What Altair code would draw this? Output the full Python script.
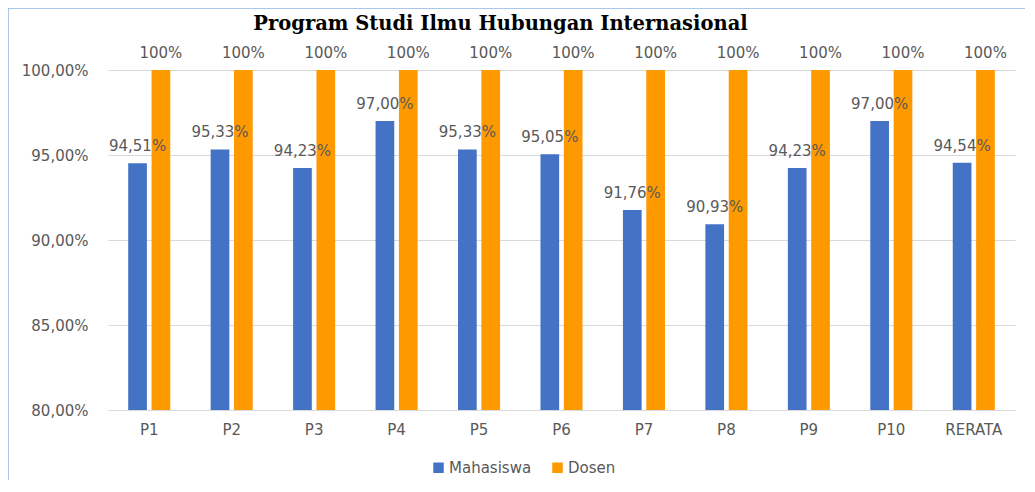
import altair as alt
import pandas as pd

categories = ["P1", "P2", "P3", "P4", "P5", "P6", "P7", "P8", "P9", "P10", "RERATA"]
mahasiswa = [94.51, 95.33, 94.23, 97.00, 95.33, 95.05, 91.76, 90.93, 94.23, 97.00, 94.54]
dosen = [100, 100, 100, 100, 100, 100, 100, 100, 100, 100, 100]
series = ["Mahasiswa", "Dosen"]
colors = ["#4472C4", "#FF9900"]
y_ticks = [80, 85, 90, 95, 100]

rows = []
for i, c in enumerate(categories):
    rows.append({"cat": c, "series": "Mahasiswa", "value": mahasiswa[i],
                 "label": f"{mahasiswa[i]:.2f}".replace(".", ",") + "%"})
    rows.append({"cat": c, "series": "Dosen", "value": dosen[i],
                 "label": f"{dosen[i]:.0f}%"})
df = pd.DataFrame(rows)

FONT = "DejaVu Sans"
GREY = "#595959"

x = alt.X("cat:N", sort=categories, title=None,
          scale=alt.Scale(paddingInner=0.49, paddingOuter=0.245),
          axis=alt.Axis(labelAngle=0, ticks=False, domainColor="#D9D9D9",
                        labelPadding=12, labelFont=FONT, labelFontSize=15,
                        labelColor=GREY))
xo = alt.XOffset("series:N", sort=series,
                 scale=alt.Scale(paddingInner=0.2, paddingOuter=0))
y = alt.Y("value:Q", title=None,
          scale=alt.Scale(domain=[80, 100], zero=False, nice=False),
          axis=alt.Axis(values=y_ticks, ticks=False, domain=False,
                        gridColor="#D9D9D9", labelPadding=20,
                        labelFont=FONT, labelFontSize=15, labelColor=GREY,
                        labelExpr="replace(format(datum.value, '.2f'), '.', ',') + '%'",
                        minExtent=100, maxExtent=100))

base = alt.Chart(df)

bars = base.mark_bar().encode(
    x=x, xOffset=xo, y=y, y2=alt.datum(80),
    color=alt.Color("series:N", sort=series,
                    scale=alt.Scale(domain=series, range=colors),
                    legend=alt.Legend(title=None, orient="none", direction="horizontal",
                                      legendX=323, legendY=390,
                                      symbolType="square", symbolSize=110,
                                      symbolStrokeWidth=0, labelFont=FONT,
                                      labelFontSize=15, labelColor=GREY,
                                      columnPadding=18, labelOffset=3)),
)

labels = base.mark_text(font=FONT, fontSize=15, color=GREY, dy=-12,
                        baseline="alphabetic").encode(
    x=x, xOffset=xo, y=y, text="label:N"
)

border_df = pd.DataFrame({"k": [0]})
left_border = alt.Chart(border_df).mark_rule(color="#8DB4E2", strokeWidth=1.5).encode(
    x=alt.value(-100), y=alt.value(-62), y2=alt.value(420)
)
top_border = alt.Chart(border_df).mark_rule(color="#8DB4E2", strokeWidth=1.5).encode(
    x=alt.value(-100), x2=alt.value(930), y=alt.value(-62)
)

chart = alt.layer(bars, labels, left_border, top_border).properties(
    width=907, height=340,
    autosize=alt.AutoSizeParams(type="none"),
    padding={"left": 100, "top": 62, "right": 10, "bottom": 70},
    title=alt.Title("Program Studi Ilmu Hubungan Internasional",
                    font="DejaVu Serif", fontSize=19.5, fontWeight="bold",
                    color="black", anchor="middle", dx=-61, offset=-27),
).configure_view(stroke=None)

chart.save("out.html", embed_options={"renderer": "svg", "actions": False})
